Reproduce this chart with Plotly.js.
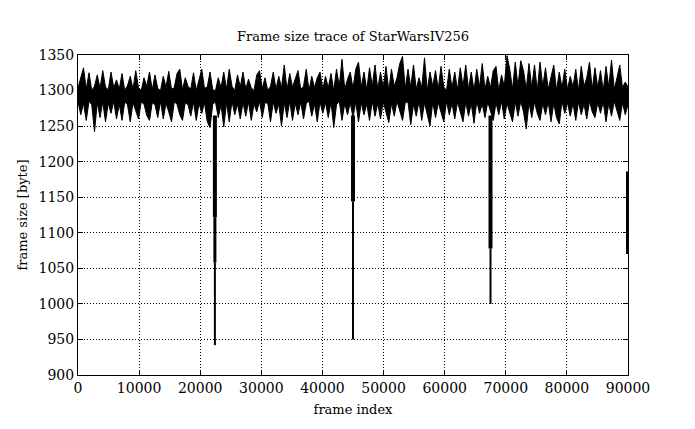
<!DOCTYPE html>
<html>
<head>
<meta charset="utf-8">
<script src="https://cdn.plot.ly/plotly-3.0.1.min.js"></script>
<style>html,body{margin:0;padding:0;background:#fff;}#chart{width:695px;height:429px;}</style>
</head>
<body>
<div id="chart"></div>
<script>
const blockSize = 450;
const frameMax = [
  1304,1318,1332,1302,1325,1300,1306,1322,1303,1328,
  1305,1301,1326,1304,1315,1302,1324,1300,1307,1320,
  1302,1328,1304,1300,1318,1306,1326,1301,1322,1303,
  1300,1320,1305,1327,1302,1304,1324,1330,1301,1318,
  1306,1302,1325,1300,1316,1330,1303,1305,1326,1301,
  1300,1318,1304,1326,1302,1330,1306,1300,1322,1305,
  1326,1302,1316,1304,1300,1322,1328,1303,1318,1300,
  1306,1326,1302,1320,1304,1336,1301,1324,1305,1318,
  1328,1302,1306,1330,1300,1320,1304,1318,1326,1302,
  1320,1304,1324,1300,1330,1306,1344,1302,1316,1326,
  1303,1330,1340,1305,1326,1301,1332,1306,1336,1302,
  1326,1304,1334,1300,1330,1306,1318,1338,1348,1303,
  1330,1305,1336,1302,1318,1304,1346,1300,1326,1306,
  1328,1302,1334,1305,1300,1330,1304,1326,1301,1332,
  1306,1336,1302,1326,1300,1330,1305,1338,1302,1320,
  1304,1328,1334,1300,1322,1306,1349,1330,1302,1340,
  1306,1342,1328,1302,1338,1304,1336,1300,1340,1306,
  1332,1302,1318,1336,1300,1326,1304,1330,1302,1320,
  1305,1330,1300,1334,1306,1318,1340,1302,1332,1304,
  1328,1300,1334,1305,1343,1302,1318,1336,1304,1312,
  1305
];
const frameMin = [
  1284,1266,1282,1258,1285,1280,1242,1283,1262,1284,
  1256,1282,1268,1285,1260,1281,1258,1284,1280,1256,
  1283,1270,1260,1284,1281,1265,1258,1283,1280,1262,
  1285,1260,1282,1270,1256,1284,1281,1266,1258,1283,
  1280,1264,1284,1258,1282,1268,1283,1256,1248,1281,
  1284,1262,1280,1249,1283,1256,1285,1266,1281,1260,
  1283,1264,1284,1258,1281,1270,1285,1262,1283,1282,
  1256,1284,1268,1281,1250,1283,1262,1285,1258,1282,
  1266,1284,1260,1282,1285,1264,1281,1256,1284,1268,
  1283,1262,1284,1248,1280,1285,1258,1282,1266,1283,
  1262,1284,1256,1283,1266,1281,1258,1285,1264,1282,
  1260,1284,1268,1255,1282,1264,1285,1270,1258,1283,
  1284,1252,1281,1264,1285,1258,1283,1266,1250,1284,
  1262,1283,1270,1256,1285,1266,1282,1260,1284,1268,
  1256,1284,1264,1282,1254,1285,1268,1281,1262,1284,
  1270,1258,1283,1266,1285,1260,1282,1268,1256,1284,
  1264,1285,1270,1246,1283,1262,1284,1268,1258,1282,
  1266,1284,1256,1282,1262,1253,1285,1268,1283,1264,
  1282,1258,1284,1266,1281,1260,1285,1270,1262,1283,
  1268,1284,1256,1282,1264,1285,1270,1258,1283,1266,
  1280
];
const blockStart = frameMin.map((v, i) => i * blockSize);

// Short deep drops in frame size (scene cuts)
const dipFrame    = [22400, 45000, 67500, 90000];
const dipFrom     = [1265, 1265, 1265, 1186];
const dipThickEnd = [1122, 1144, 1078, 1070];
const dipMidEnd   = [1058, 1144, 1078, 1070];
const dipMin      = [942, 950, 1000, 1070];

const xTicks = [0,10000,20000,30000,40000,50000,60000,70000,80000,90000];
const yTicks = [900,950,1000,1050,1100,1150,1200,1250,1300,1350];

const serif = 'DejaVu Serif, Liberation Serif, serif';

function segs(a, b) {
  const xs = [], ys = [];
  dipFrame.forEach((f, i) => {
    if (a[i] !== b[i]) { xs.push(f, f, null); ys.push(a[i], b[i], null); }
  });
  return {xs, ys};
}
const thick = segs(dipFrom, dipThickEnd);
const mid = segs(dipThickEnd, dipMidEnd);
const thin = segs(dipMidEnd, dipMin);

const traces = [
  {x: blockStart, y: frameMax, type: 'scatter', mode: 'lines', line: {color: '#000', width: 1}, hoverinfo: 'skip'},
  {x: blockStart, y: frameMin, type: 'scatter', mode: 'lines', line: {color: '#000', width: 1},
   fill: 'tonexty', fillcolor: '#000', hoverinfo: 'skip'},
  {x: thick.xs, y: thick.ys, type: 'scatter', mode: 'lines', line: {color: '#000', width: 4}, cliponaxis: false, hoverinfo: 'skip'},
  {x: mid.xs, y: mid.ys, type: 'scatter', mode: 'lines', line: {color: '#000', width: 3}, cliponaxis: false, hoverinfo: 'skip'},
  {x: thin.xs, y: thin.ys, type: 'scatter', mode: 'lines', line: {color: '#000', width: 2}, cliponaxis: false, hoverinfo: 'skip'}
];

const axisCommon = {
  showline: true, linecolor: '#000', linewidth: 1, mirror: 'ticks',
  ticks: 'inside', ticklen: 5, tickcolor: '#000', tickwidth: 1,
  showgrid: true, gridcolor: '#000', gridwidth: 1, griddash: '1px,2px',
  zeroline: false,
  tickfont: {family: serif, size: 14, color: '#000'}
};

const layout = {
  width: 695, height: 429,
  margin: {l: 78, r: 67, t: 55, b: 54},
  paper_bgcolor: '#fff', plot_bgcolor: '#fff',
  showlegend: false,
  title: {text: 'Frame size trace of StarWarsIV256', font: {family: serif, size: 13, color: '#000'},
          x: 0.5, xanchor: 'center', xref: 'paper', y: 0.915, yanchor: 'middle'},
  xaxis: Object.assign({}, axisCommon, {
    range: [0, 90000], tickvals: xTicks, ticktext: xTicks.map(String),
    title: {text: 'frame index', font: {family: serif, size: 13, color: '#000'}, standoff: 10}
  }),
  yaxis: Object.assign({}, axisCommon, {
    range: [900, 1350], tickvals: yTicks, ticktext: yTicks.map(String),
    title: {text: 'frame size [byte]', font: {family: serif, size: 13, color: '#000'}, standoff: 8}
  })
};

Plotly.newPlot('chart', traces, layout, {staticPlot: true, displayModeBar: false});
</script>
</body>
</html>
